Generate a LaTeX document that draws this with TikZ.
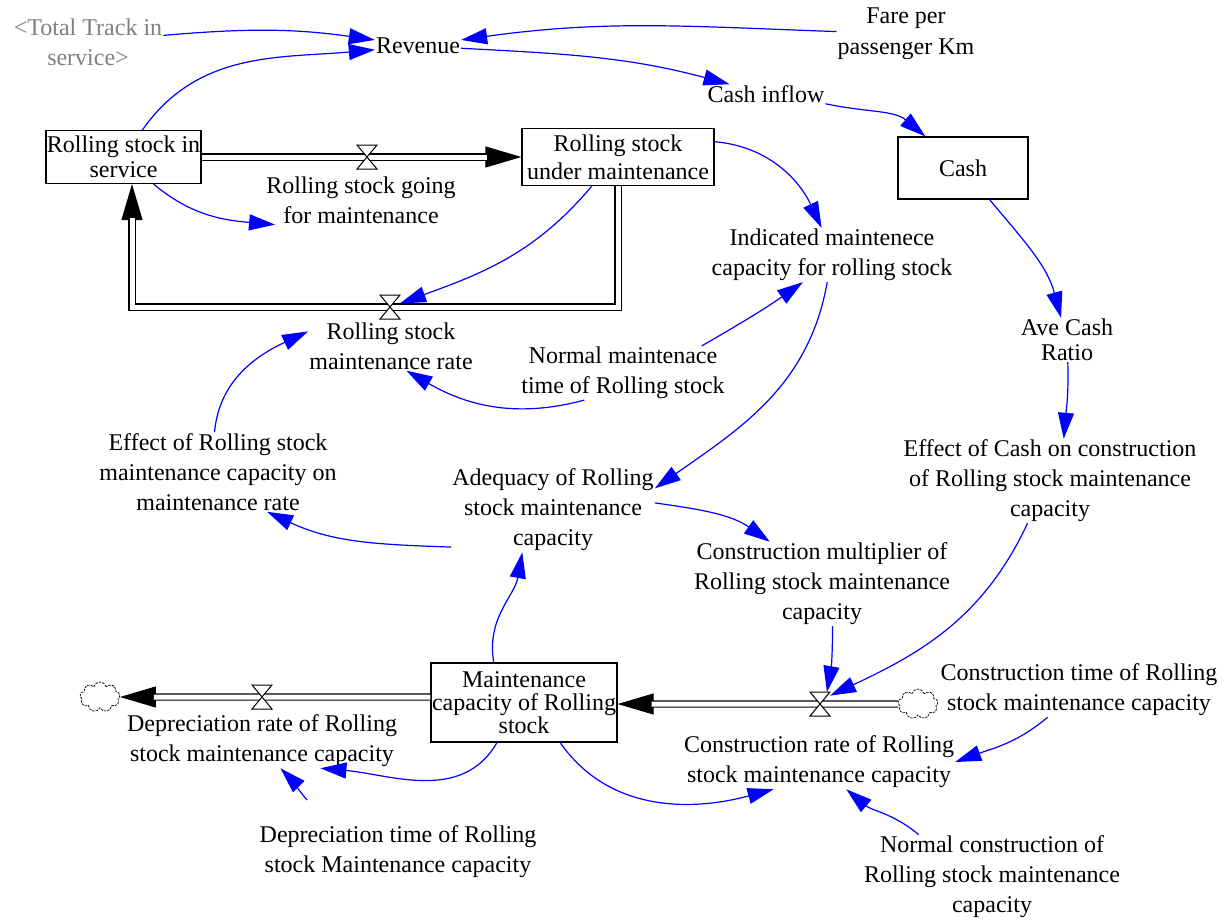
\documentclass[tikz,border=0pt]{standalone}
\usepackage{fontspec}
\setmainfont{Liberation Serif}
\usetikzlibrary{arrows.meta,shapes.symbols}
\definecolor{tgray}{RGB}{128,128,128}
\newcommand\fsn{\fontsize{24}{30}\selectfont}
\begin{document}
\begin{tikzpicture}[x=1pt,y=-1pt,
  lbl/.style={align=center,inner sep=1pt,font=\fsn},
  stockbox/.style={draw,line width=1.2pt,align=center,inner sep=0pt},
  link/.style={blue,line width=1.2pt,-{Triangle[length=26pt,width=16pt]}},
  pipe/.style={draw=black,double=white,double distance=5pt,line width=1.2pt,line join=miter},
  flowhead/.style={line width=1pt,-{Triangle[length=36pt,width=21pt]}},
  valvebox/.style={inner sep=0pt,outer sep=0pt,minimum width=20pt,minimum height=24pt},
  valveline/.style={draw,fill=white,line width=1pt,line join=miter},
  cloudnode/.style={cloud,cloud puffs=9,draw,line width=0.7pt,dash pattern=on 2.5pt off 1pt,minimum width=40pt,minimum height=30pt,inner sep=0pt,aspect=1.3}
]
\useasboundingbox (0,0) rectangle (1225,923);

% ---------- nodes ----------
\node[lbl,text=tgray] (tt) at (88,42) {<Total Track in\\service>};
\node[lbl] (rev) at (418,46) {Revenue};
\node[lbl,font=\fontsize{24}{31}\selectfont] (fare) at (906,34) {Fare per\\passenger Km};
\node[lbl] (cin) at (766,94) {Cash inflow};
\node[stockbox,minimum width=130pt,minimum height=62pt,font=\fsn] (cash) at (963,168) {Cash};
\node[stockbox,minimum width=155pt,minimum height=53pt,font=\fontsize{24}{25}\selectfont] (rsis) at (123.5,157) {Rolling stock in\\service};
\node[stockbox,minimum width=192pt,minimum height=57pt,font=\fontsize{24}{28}\selectfont] (rsum) at (618,157) {Rolling stock\\under maintenance};
\node[valvebox] (gv) at (367,157) {};
\node[lbl] (gofl) at (361,200) {Rolling stock going\\for maintenance};
\node[valvebox] (mv) at (390,307) {};
\node[lbl] (mrl) at (391,346) {Rolling stock\\maintenance rate};
\node[lbl] (ind) at (832,255) {Indicated maintenece\\capacity for rolling stock};
\node[lbl] (nmt) at (623,373) {Normal maintenace\\time of Rolling stock};
\node[lbl,font=\fontsize{24}{25}\selectfont] (acr) at (1067,340) {Ave Cash\\Ratio};
\node[lbl] (ecash) at (1050,481) {Effect of Cash on construction\\of Rolling stock maintenance\\capacity};
\node[lbl] (erm) at (218,472) {Effect of Rolling stock\\maintenance capacity on\\maintenance rate};
\node[lbl] (adeq) at (553,510) {Adequacy of Rolling\\stock maintenance\\capacity};
\node[lbl] (cmult) at (822,584) {Construction multiplier of\\Rolling stock maintenance\\capacity};
\node[stockbox,minimum width=186pt,minimum height=79pt,font=\fontsize{24}{23}\selectfont] (mcap) at (524,702.5) {Maintenance\\capacity of Rolling\\stock};
\node[cloudnode] (cl1) at (100,697) {};
\node[valvebox] (dv) at (262,697) {};
\node[lbl] (depl) at (262,741) {Depreciation rate of Rolling\\stock maintenance capacity};
\node[cloudnode] (cl2) at (918,704) {};
\node[valvebox] (cv) at (820,704) {};
\node[lbl] (conl) at (819,762) {Construction rate of Rolling\\stock maintenance capacity};
\node[lbl] (ctime) at (1079,690) {Construction time of Rolling\\stock maintenance capacity};
\node[lbl] (ncon) at (992,877) {Normal construction of\\Rolling stock maintenance\\capacity};
\node[lbl] (dtime) at (398,852) {Depreciation time of Rolling\\stock Maintenance capacity};

% ---------- flows ----------
\draw[flowhead] (rsis.east) -- (rsum.west);
\draw[pipe,shorten >=34pt] (rsis.east) -- (rsum.west);
\draw[flowhead] (rsum.south) |- (mv.center) -| ([xshift=8.5pt]rsis.south);
\draw[pipe,shorten >=34pt] (rsum.south) |- (mv.center) -| ([xshift=8.5pt]rsis.south);
\draw[flowhead] (mcap.west |- dv.center) -- (cl1.east);
\draw[pipe,shorten >=34pt] (mcap.west |- dv.center) -- (cl1.east);
\draw[flowhead] (cl2.west) -- (mcap.east |- cv.center);
\draw[pipe,shorten >=34pt] (cl2.west) -- (mcap.east |- cv.center);
\foreach \v in {gv,mv,dv,cv}
  \draw[valveline] (\v.north west) -- (\v.north east) -- (\v.south west) -- (\v.south east) -- cycle;

% ---------- links ----------
\draw[link] (tt) to[out=5,in=172] (rev);
\draw[link] (rsis) to[out=55,in=185] (rev);
\draw[link] (fare) to[out=178,in=8] (rev);
\draw[link] (rev) to[out=-3,in=165] (cin);
\draw[link] (cin.south east) to[out=-12,in=140] (cash);
\draw[link] (cash) to[out=-50,in=105] (acr);
\draw[link] (acr) to[out=-88,in=85] (ecash.72);
\draw[link] (ecash.242) to[out=245,in=25] (cv.40);
\draw[link] (cmult.-76) to[out=-90,in=80] (cv.60);
\draw[link] (ctime.221) to[out=220,in=20] (conl.east);
\draw[link] (ncon.150) to[out=140,in=-40] (conl.-45);
\draw[link] (mcap.-48) to[out=-55,in=195] (conl.211);
\draw[link] (mcap.236) to[out=240,in=-5] (depl.-25);
\draw[link] ([xshift=-91pt,yshift=52pt]dtime.center) to[out=130,in=-45] (depl.-56);
\draw[link] (mcap.127) to[out=100,in=-100] (adeq.234);
\draw[link] (adeq.4) to[out=-8,in=145] (cmult.141);
\draw[link] (adeq.200) to[out=178,in=-25] (erm.-39);
\draw[link] (erm.95) to[out=85,in=205] (mrl.170);
\draw[link] (ind.-100) to[out=-100,in=35] (adeq.12);
\draw[link] (rsum.9) to[out=-5,in=115] (ind.111);
\draw[link] (nmt.19) to[out=30,in=215] (ind.223);
\draw[link] (nmt.215) to[out=195,in=-30] (mrl.-58);
\draw[link] (rsum.228) to[out=230,in=20] (mv.20);
\draw[link] (rsis.-42) to[out=-40,in=175] (gofl.196);
\end{tikzpicture}
\end{document}
